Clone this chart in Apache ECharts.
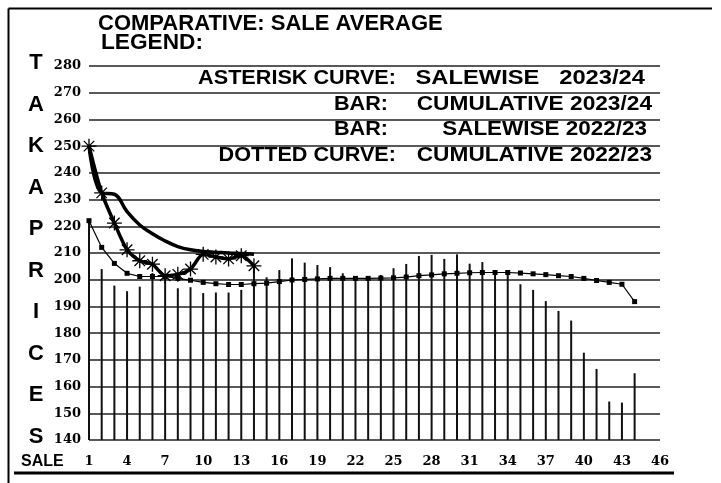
<!DOCTYPE html>
<html>
<head>
<meta charset="utf-8">
<script src="https://cdn.jsdelivr.net/npm/echarts@6/dist/echarts.min.js"></script>
<style>
html,body{margin:0;padding:0;background:#fff;}
#chart{width:721px;height:483px;}
</style>
</head>
<body>
<div id="chart"></div>
<script>
// ---- Data ----
var sales = [];
for (var i = 1; i <= 46; i++) sales.push(String(i));

// Asterisk curve: SALEWISE 2023/24 (sales 1-14)
var salewise2324 = [250, 232.5, 221.2, 211.2, 207.1, 205.8, 201.5, 202, 204, 209.5, 208.5, 207.8, 209, 205.2];

// Thick curve: CUMULATIVE 2023/24 (sales 1-14)
var cumulative2324 = [250, 232.5, 232, 225.5, 220.5, 217.2, 214.5, 212.4, 211.2, 210.6, 210.3, 210, 209.8, 209.5];

// Bars: SALEWISE 2022/23 (sales 1-44)
var salewise2223 = [222, 204, 197.8, 195.7, 197.4, 202.5, 201, 196.8, 197.2, 195, 195.2, 195.2, 196.2, 205,
  200.9, 203.6, 208, 206.4, 205.5, 204.7, 202.4, 200.5, 200.5, 201.8, 204.3, 205.9, 208.9, 209.3, 207.8, 209.5,
  206, 206.6, 203, 203, 198.3, 196.2, 192, 188.3, 184.7, 172.7, 166.6, 154.4, 154, 165];

// Dotted curve: CUMULATIVE 2022/23 (sales 1-44)
var cumulative2223 = [222.1, 212.1, 206.1, 202.4, 201.2, 201.2, 201.2, 200.5, 199.8, 199, 198.5, 198.2, 198.2, 198.5,
  198.7, 199.3, 199.9, 200.1, 200.3, 200.5, 200.5, 200.5, 200.5, 200.6, 200.7, 201, 201.5, 201.8, 202.2, 202.4,
  202.6, 202.7, 202.7, 202.7, 202.5, 202.2, 201.9, 201.5, 201.2, 200.5, 199.7, 199, 198.3, 191.8];

var yMin = 140, yMax = 280, yStep = 10;

var titleText = 'COMPARATIVE: SALE AVERAGE';
var legendHead = 'LEGEND:';
var legendLabels = ['ASTERISK CURVE:', 'BAR:', 'BAR:', 'DOTTED CURVE:'];
var legendValues = ['SALEWISE   2023/24', 'CUMULATIVE 2023/24', 'SALEWISE 2022/23', 'CUMULATIVE 2022/23'];
var yTitleLetters = ['T', 'A', 'K', 'A', 'P', 'R', 'I', 'C', 'E', 'S'];
var xTitle = 'SALE';

// ---- Chart ----
var chart = echarts.init(document.getElementById('chart'), null, {renderer: 'canvas'});

var asterisk = 'path://M0,-10L0,10M-10,0L10,0M-7,-7L7,7M-7,7L7,-7';

function txt(x, y, s, font, align, sx) {
  return {type: 'text', x: x, y: y, scaleX: sx || 1,
    style: {text: s, font: font, fill: '#000', textAlign: align, align: align, textVerticalAlign: 'middle', verticalAlign: 'middle'}};
}

var graphics = [];
var bigFont = 'bold 22px "Liberation Sans", Arial, sans-serif';
var legFont = 'bold 21px "Liberation Sans", Arial, sans-serif';
graphics.push(txt(98, 24, titleText, bigFont, 'left', 1.0));
graphics.push(txt(101, 43, legendHead, bigFont, 'left', 1.03));
var rowY = [78, 104, 129, 155];
var labelRight = [396, 388, 388, 396];
var valueRight = [645, 652, 647, 652];
var valueScale = [1.13, 1.08, 1.07, 1.08];
for (var r = 0; r < 4; r++) {
  graphics.push(txt(labelRight[r], rowY[r], legendLabels[r], legFont, 'right', 1.03));
  graphics.push(txt(valueRight[r], rowY[r], legendValues[r], legFont, 'right', valueScale[r]));
}
for (var k = 0; k < yTitleLetters.length; k++) {
  graphics.push(txt(36, 63 + k * 41.5, yTitleLetters[k], bigFont, 'center', 1));
}
graphics.push(txt(21, 462, xTitle, 'bold 16px "Liberation Sans", Arial, sans-serif', 'left', 1));
// frame and bottom rule
graphics.push({type: 'line', shape: {x1: 14, y1: 473, x2: 674, y2: 473}, style: {stroke: '#000', lineWidth: 3}});
graphics.push({type: 'line', shape: {x1: 8.5, y1: 8.5, x2: 8.5, y2: 483}, style: {stroke: '#000', lineWidth: 2}});
graphics.push({type: 'line', shape: {x1: 8.5, y1: 8.5, x2: 712, y2: 8.5}, style: {stroke: '#000', lineWidth: 2}});

var option = {
  animation: false,
  backgroundColor: '#fff',
  grid: {left: 89, right: 61, top: 66, bottom: 43, containLabel: false},
  xAxis: {
    type: 'category',
    data: sales,
    boundaryGap: false,
    axisLine: {show: false},
    axisTick: {show: false},
    splitLine: {show: false},
    axisLabel: {interval: 2, margin: 15, color: '#000', fontFamily: '"DejaVu Serif", serif', fontWeight: 'bold', fontSize: 13}
  },
  yAxis: {
    type: 'value',
    min: yMin, max: yMax, interval: yStep,
    axisLine: {show: false},
    axisTick: {show: false},
    splitLine: {show: true, lineStyle: {color: '#222', width: 1.5}},
    axisLabel: {margin: 8, color: '#000', fontFamily: '"DejaVu Serif", serif', fontWeight: 'bold', fontSize: 13}
  },
  graphic: {elements: graphics},
  series: [
    {
      name: 'SALEWISE 2022/23',
      type: 'bar',
      data: salewise2223,
      barWidth: 2,
      itemStyle: {color: '#111'},
      z: 2
    },
    {
      name: 'CUMULATIVE 2022/23',
      type: 'line',
      data: cumulative2223,
      symbol: 'rect',
      symbolSize: 5,
      showAllSymbol: true,
      lineStyle: {color: '#000', width: 1.2},
      itemStyle: {color: '#000'},
      z: 3
    },
    {
      name: 'CUMULATIVE 2023/24',
      type: 'line',
      data: cumulative2324,
      smooth: 0.4,
      symbol: 'none',
      lineStyle: {color: '#000', width: 3.5},
      z: 4
    },
    {
      name: 'SALEWISE 2023/24',
      type: 'line',
      data: salewise2324,
      smooth: 0.25,
      symbol: asterisk,
      symbolSize: 15,
      showAllSymbol: true,
      lineStyle: {color: '#000', width: 3.5},
      itemStyle: {color: 'none', borderColor: '#000', borderWidth: 1.3},
      z: 5
    }
  ]
};
chart.setOption(option);
</script>
</body>
</html>
